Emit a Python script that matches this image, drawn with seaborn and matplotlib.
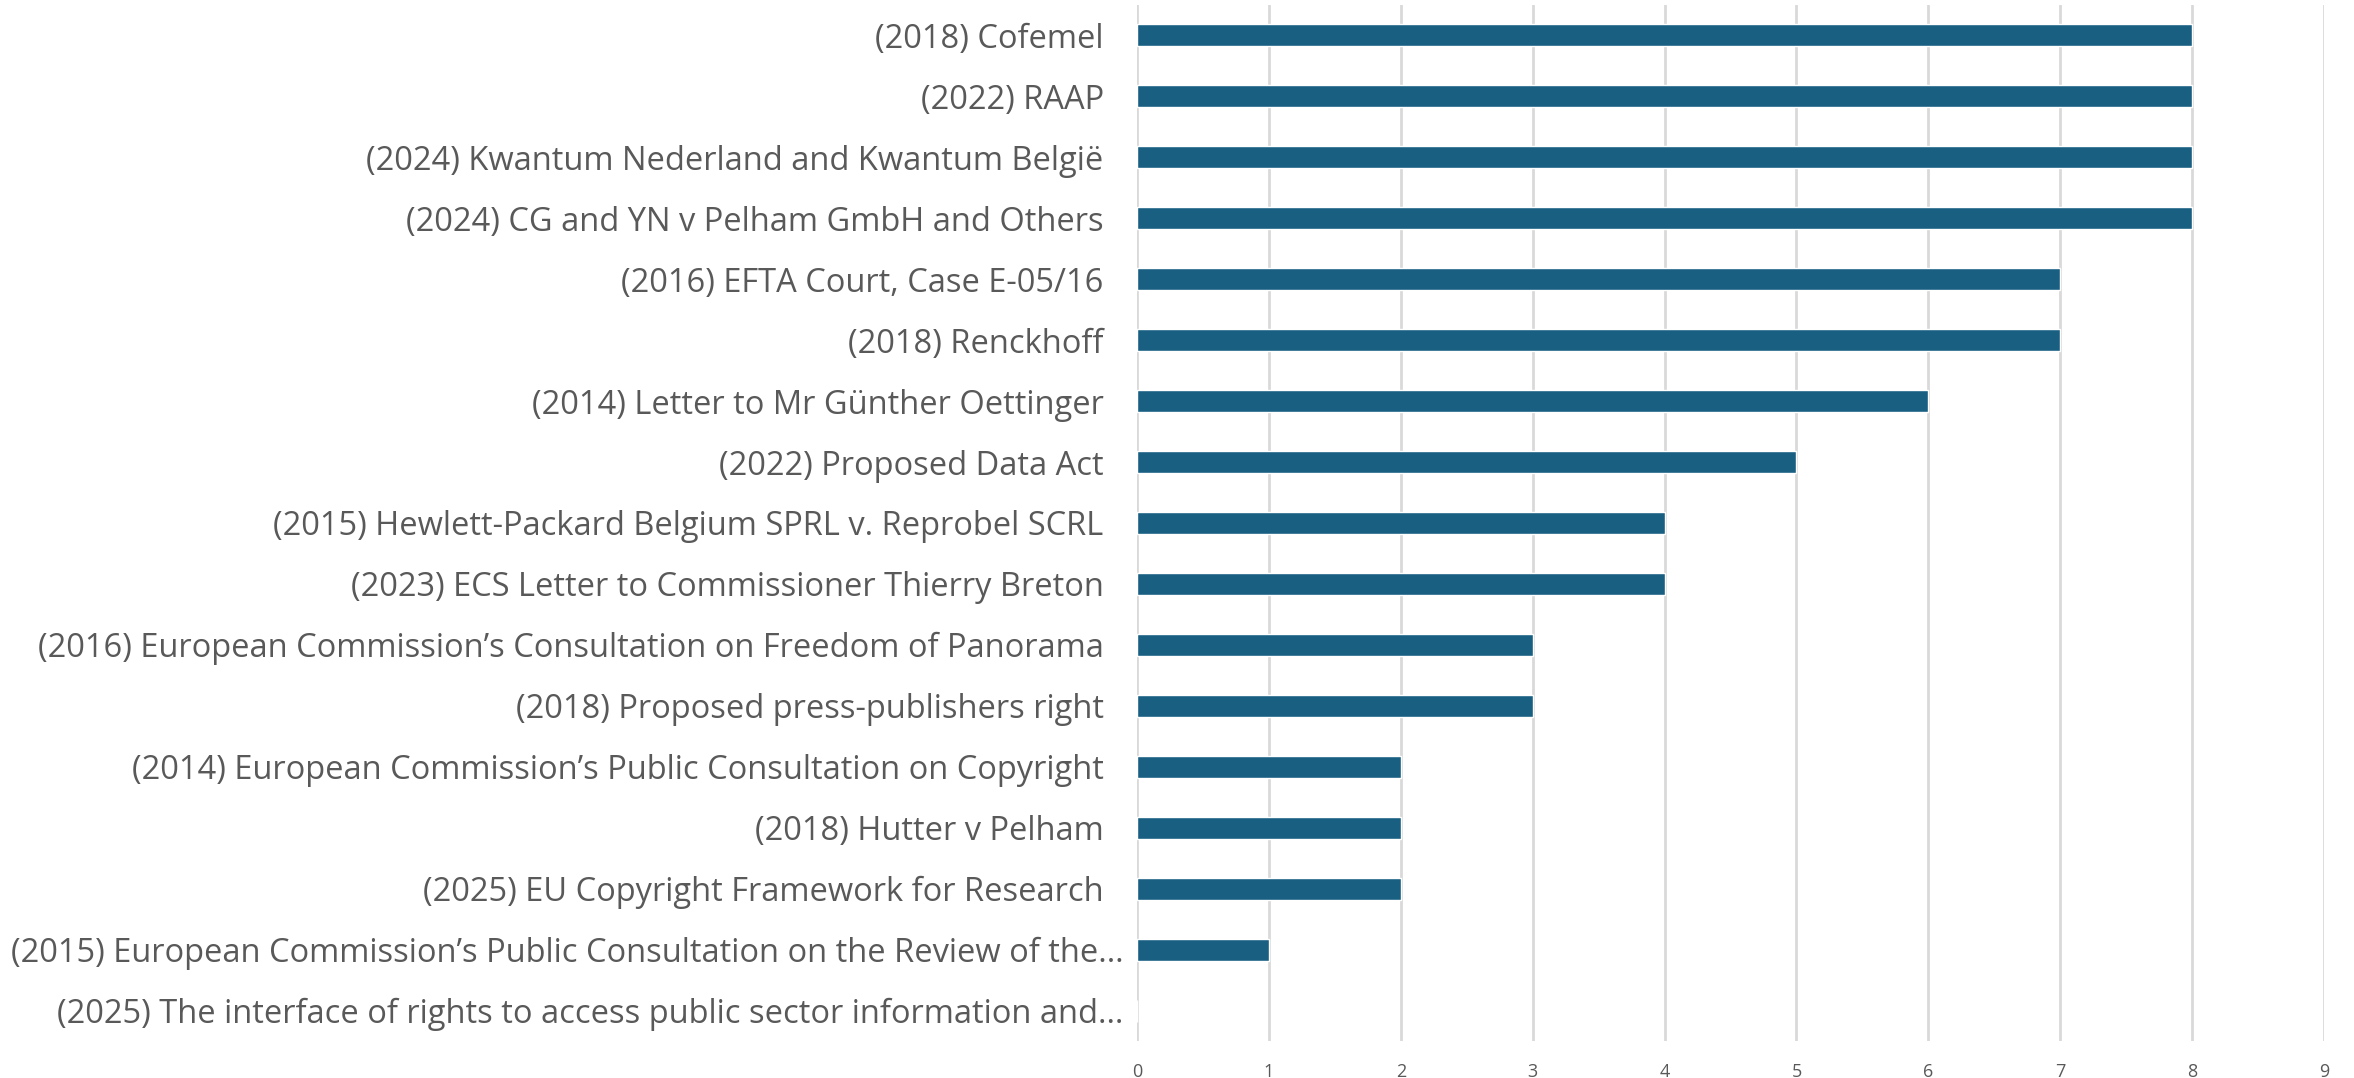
import pandas as pd
import seaborn as sns
import matplotlib.pyplot as plt
import matplotlib.transforms as mtransforms

# cases and how often each was counted
cases = [
    "(2018) Cofemel",
    "(2022) RAAP",
    "(2024) Kwantum Nederland and Kwantum België",
    "(2024) CG and YN v Pelham GmbH and Others",
    "(2016) EFTA Court, Case E-05/16",
    "(2018) Renckhoff",
    "(2014) Letter to Mr Günther Oettinger",
    "(2022) Proposed Data Act",
    "(2015) Hewlett-Packard Belgium SPRL v. Reprobel SCRL",
    "(2023) ECS Letter to Commissioner Thierry Breton",
    "(2016) European Commission’s Consultation on Freedom of Panorama",
    "(2018) Proposed press-publishers right",
    "(2014) European Commission’s Public Consultation on Copyright",
    "(2018) Hutter v Pelham",
    "(2025) EU Copyright Framework for Research",
    "(2015) European Commission’s Public Consultation on the Review of the…",
    "(2025) The interface of rights to access public sector information and…",
]
counts = [8, 8, 8, 8, 7, 7, 6, 5, 4, 4, 3, 3, 2, 2, 2, 1, 0]
x_ticks = list(range(0, 10))

df = pd.DataFrame({'Case': cases, 'Count': counts})

sns.set_style('white')
plt.rcParams['font.family'] = ['Open Sans', 'DejaVu Sans']

fig = plt.figure(figsize=(23.54, 10.78), dpi=100)
ax = fig.add_axes([0.483, 0.0343, 0.5043, 0.9611])

sns.barplot(data=df, x='Count', y='Case', color='#185f82', width=0.36,
            saturation=1, ax=ax)

ax.set_xlim(0, 9)
ax.set_xticks(x_ticks)
ax.set_ylim(len(cases) - 0.5, -0.5)
ax.xaxis.grid(True, color='#d9d9d9', linewidth=2)
ax.set_axisbelow(True)
for s in ax.spines.values():
    s.set_visible(False)

ax.set_xlabel('')
ax.set_ylabel('')
ax.tick_params(axis='y', length=0, pad=24, labelsize=23.5, labelcolor='#595959')
ax.tick_params(axis='x', length=0, pad=16, labelsize=13, labelcolor='#595959')

# the shortened labels sit closer to the axis
shift = mtransforms.ScaledTranslation(0.2, 0, fig.dpi_scale_trans)
for lab in ax.get_yticklabels():
    if lab.get_text().endswith('…'):
        lab.set_transform(lab.get_transform() + shift)

fig.savefig('out.png', dpi=100)
